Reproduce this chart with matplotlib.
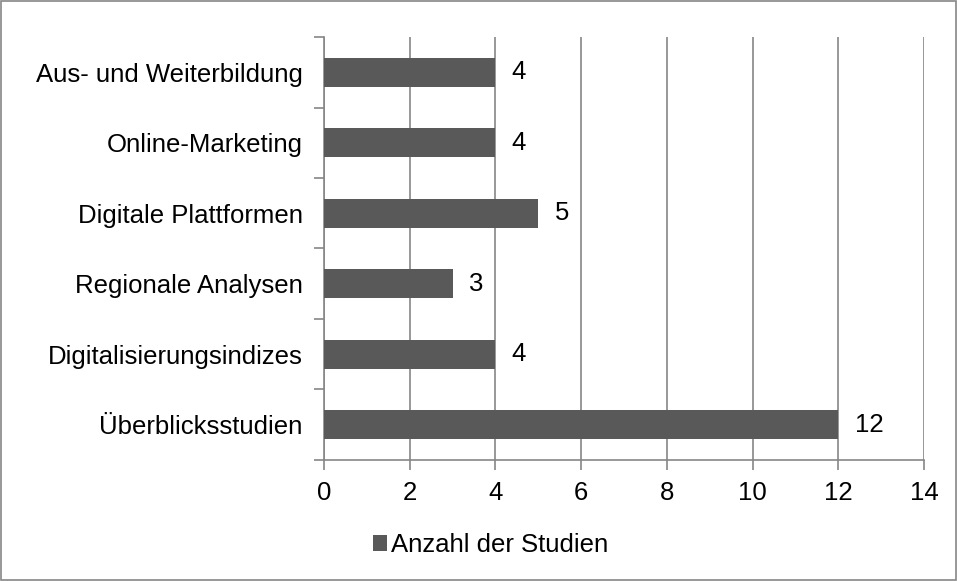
import matplotlib.pyplot as plt
import numpy as np
from matplotlib.patches import Rectangle

# Kategorien von unten nach oben
categories = ["Überblicksstudien", "Digitalisierungsindizes", "Regionale Analysen",
              "Digitale Plattformen", "Online-Marketing", "Aus- und Weiterbildung"]
counts = [12, 4, 3, 5, 4, 4]
series_name = "Anzahl der Studien"
xticks = [0, 2, 4, 6, 8, 10, 12, 14]

plt.rcParams['font.family'] = ['Liberation Sans', 'DejaVu Sans']

bar_color = '#595959'
line_color = '#868686'
fs = 18.5

fig = plt.figure(figsize=(9.57, 5.81), dpi=100)
ax = fig.add_axes([0.3386, 0.2083, 0.6270, 0.7280])

y = np.arange(len(categories))
bars = ax.barh(y, counts, height=0.41, color=bar_color, label=series_name, zorder=3)

for yi, v in zip(y, counts):
    ax.text(v + 0.38, yi, str(v), va='center', ha='left', fontsize=fs)

ax.set_xlim(0, 14)
ax.set_ylim(-0.5, len(categories) - 0.5)
ax.set_xticks(xticks)
ax.set_yticks(y)
ax.set_yticklabels(categories)
ax.set_yticks(np.arange(-0.5, len(categories), 1), minor=True)

ax.xaxis.grid(True, color=line_color, linewidth=1.2, zorder=0)
for s in ['top', 'right']:
    ax.spines[s].set_visible(False)
for s in ['left', 'bottom']:
    ax.spines[s].set_color(line_color)
    ax.spines[s].set_linewidth(1.2)

ax.tick_params(axis='x', direction='out', length=7, width=1.2, color=line_color,
               labelsize=fs, pad=8)
ax.tick_params(axis='y', which='major', length=0, labelsize=fs, pad=15.5)
ax.tick_params(axis='y', which='minor', direction='out', length=7, width=1.2, color=line_color)

leg = fig.legend(handles=[bars], labels=[series_name], loc='center',
                 bbox_to_anchor=(0.513, 0.062), frameon=False, fontsize=fs,
                 handlelength=0.55, handleheight=0.55, handletextpad=0.15)

fig.patches.append(Rectangle((0.0015, 0.002), 0.997, 0.996, transform=fig.transFigure,
                             fill=False, edgecolor=line_color, linewidth=1.2))

fig.savefig('out.png', dpi=100)
